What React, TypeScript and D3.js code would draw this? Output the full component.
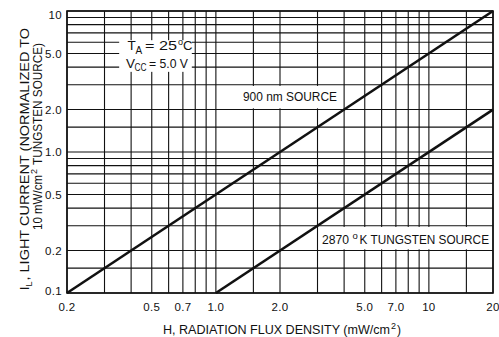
import React from 'react';
import * as d3 from 'd3';

// grid values (log-log chart paper)
const xGridValues = [0.2, 0.3, 0.4, 0.5, 0.6, 0.7, 0.8, 0.9, 1, 1.5, 2, 3, 4, 5, 6, 7, 8, 9, 10, 15, 20];
const yGridValues = [0.1, 0.15, 0.2, 0.3, 0.4, 0.5, 0.6, 0.7, 0.8, 0.9, 1, 1.5, 2, 3, 4, 5, 6, 7, 8, 9, 10];

const xTickValues = [0.2, 0.5, 0.7, 1, 2, 5, 7, 10, 20];
const xTickLabels = ['0.2', '0.5', '0.7', '1.0', '2.0', '5.0', '7.0', '10', '20'];
const yTickValues = [0.1, 0.2, 0.5, 1, 2, 5, 10];
const yTickLabels = ['0.1', '0.2', '0.5', '1.0', '2.0', '5.0', '10'];

// series
const source900H = [0.2, 20];
const source900IL = [0.1, 10];
const tungstenH = [1.0, 20];
const tungstenIL = [0.1, 2.0];

const W = 499;
const H = 337;
const margin = { left: 67, right: 6, top: 11, bottom: 44 };
const FONT = '"Liberation Sans", Arial, sans-serif';
const INK = '#111';

const App: React.FC = () => {
  const x = d3.scaleLog().domain([0.2, 20]).range([margin.left, W - margin.right]);
  const y = d3.scaleLog().domain([0.1, 10]).range([H - margin.bottom, margin.top]);

  const line = d3.line<[number, number]>()
    .x(d => x(d[0]))
    .y(d => y(d[1]));

  const s900 = source900H.map((h, i) => [h, source900IL[i]] as [number, number]);
  const sTung = tungstenH.map((h, i) => [h, tungstenIL[i]] as [number, number]);

  // white label boxes, in data coordinates
  const boxes = [
    { x0: 0.347, x1: 0.781, y0: 6.33, y1: 3.63 },
    { x0: 1.0, x1: 4.0, y0: 3, y1: 2 },
    { x0: 3.0, x1: 20, y0: 0.3, y1: 0.2 },
  ];

  const [x0, x1] = x.range();
  const [y0, y1] = y.range();

  return (
    <svg width={W} height={H} style={{ position: 'absolute', left: 0, top: 0, background: '#fff' }}
      fontFamily={FONT} fill={INK}>
      {/* grid */}
      <g stroke={INK} strokeWidth={1.1}>
        {xGridValues.map(v => (
          <line key={'gx' + v} x1={x(v)} x2={x(v)} y1={y1} y2={y0} />
        ))}
        {yGridValues.map(v => (
          <line key={'gy' + v} x1={x0} x2={x1} y1={y(v)} y2={y(v)} />
        ))}
      </g>

      {/* label boxes knock out the grid */}
      {boxes.map((b, i) => (
        <rect key={i}
          x={x(b.x0) + 1.2} y={y(b.y0) + 1.2}
          width={x(b.x1) - x(b.x0) - 2.4} height={y(b.y1) - y(b.y0) - 2.4}
          fill="#fff" />
      ))}

      {/* frame */}
      <rect x={x0} y={y1} width={x1 - x0} height={y0 - y1} fill="none" stroke={INK} strokeWidth={1.6} />

      {/* curves */}
      <path d={line(s900) || ''} fill="none" stroke={INK} strokeWidth={2.6} />
      <path d={line(sTung) || ''} fill="none" stroke={INK} strokeWidth={2.6} />

      {/* tick labels */}
      <g fontSize={11.5} letterSpacing={0.3}>
        {xTickValues.map((v, i) => (
          <text key={'xt' + v} x={x(v)} y={310.5} textAnchor="middle">{xTickLabels[i]}</text>
        ))}
        {yTickValues.map((v, i) => (
          <text key={'yt' + v} x={62} y={Math.min(Math.max(y(v), 14.5), 290.5)} dy="0.36em" textAnchor="end">
            {yTickLabels[i]}
          </text>
        ))}
      </g>

      {/* conditions */}
      <g fontSize={13.5}>
        <text x={127.5} y={50}>T</text>
        <text x={135.5} y={53.5} fontSize={10}>A</text>
        <text x={145} y={50} textLength={32} lengthAdjust="spacingAndGlyphs">= 25</text>
        <text x={178} y={45} fontSize={9}>o</text>
        <text x={183} y={50} textLength={9.5} lengthAdjust="spacingAndGlyphs">C</text>

        <text x={126} y={67.5}>V</text>
        <text x={134.5} y={71} fontSize={10} textLength={12} lengthAdjust="spacingAndGlyphs">CC</text>
        <text x={149} y={67.5} textLength={39} lengthAdjust="spacingAndGlyphs">= 5.0 V</text>
      </g>

      {/* series labels */}
      <g fontSize={12.5}>
        <text x={243} y={100.5} textLength={94} lengthAdjust="spacingAndGlyphs">900 nm SOURCE</text>
        <text x={322} y={243.5} textLength={27} lengthAdjust="spacingAndGlyphs">2870</text>
        <text x={352.5} y={238.5} fontSize={9.5}>o</text>
        <text x={359.5} y={243.5} textLength={129.5} lengthAdjust="spacingAndGlyphs">K TUNGSTEN SOURCE</text>
      </g>

      {/* axis titles */}
      <g fontSize={12}>
        <text x={163} y={334} textLength={227} lengthAdjust="spacingAndGlyphs">H, RADIATION FLUX DENSITY (mW/cm</text>
        <text x={391} y={329} fontSize={9}>2</text>
        <text x={397} y={334}>)</text>
      </g>
      <g fontSize={12} transform="translate(28.5,290) rotate(-90)">
        <text x={0} y={0}>I</text>
        <text x={3.5} y={3.5} fontSize={9}>L</text>
        <text x={9.5} y={0} textLength={252.5} lengthAdjust="spacingAndGlyphs">, LIGHT CURRENT (NORMALIZED TO</text>
      </g>
      <g fontSize={12} transform="translate(41.5,230) rotate(-90)">
        <text x={0} y={0} textLength={55} lengthAdjust="spacingAndGlyphs">10 mW/cm</text>
        <text x={56} y={-5} fontSize={9}>2</text>
        <text x={65} y={0} textLength={122} lengthAdjust="spacingAndGlyphs">TUNGSTEN SOURCE)</text>
      </g>
    </svg>
  );
};

export default App;
